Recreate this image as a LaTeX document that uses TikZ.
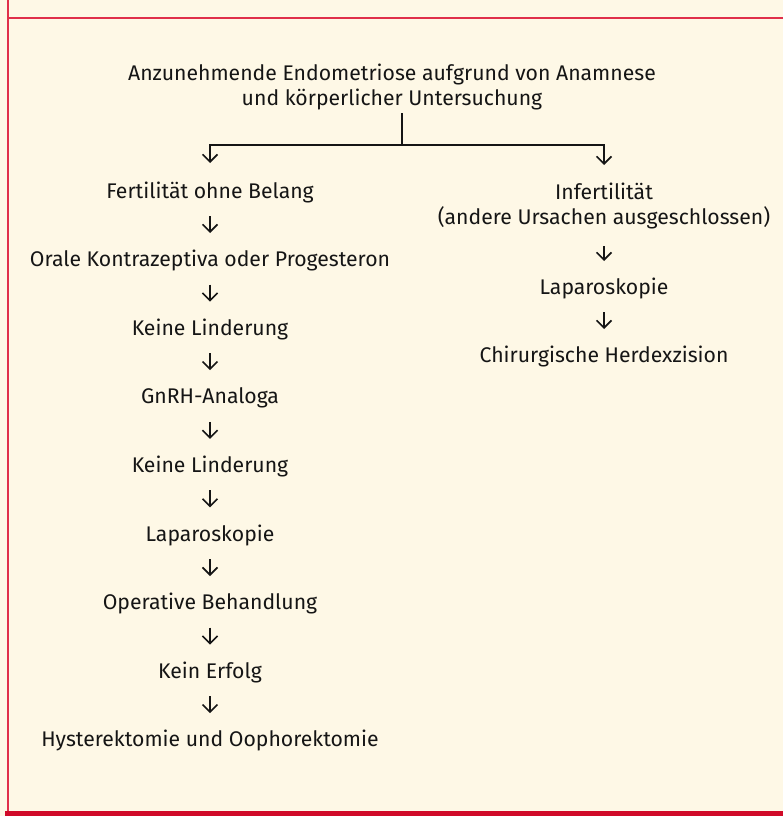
\documentclass[tikz,border=0pt]{standalone}
\usepackage{fontspec}
\setmainfont{Fira Sans}
\usetikzlibrary{arrows.meta,calc}
\definecolor{bgcream}{HTML}{FEF8E6}
\definecolor{frame}{HTML}{E0304A}
\definecolor{framedark}{HTML}{D00A28}
\definecolor{ink}{HTML}{151515}
\tikzset{
  lbl/.style={anchor=base, inner sep=0pt, text=ink, font=\fontsize{21.2}{25}\selectfont},
  arr/.style={draw=ink, line width=1.6pt, -{Straight Barb[length=7.5pt,width=15pt,line width=1.6pt]}},
  conn/.style={draw=ink, line width=1.6pt}
}
\begin{document}
\begin{tikzpicture}[x=1pt,y=-1pt]
\useasboundingbox (0,0) rectangle (783,816);
\fill[bgcream] (0,0) rectangle (783,816);
% frame
\fill[frame] (6.7,0) rectangle (9,812);
\fill[frame] (6.7,17) rectangle (783,19.2);
\fill[framedark] (5,810.7) rectangle (783,816);

% top (base anchor = last line)
\node[lbl, align=center] (top) at (392,105) {Anzunehmende Endometriose aufgrund von Anamnese\\und körperlicher Untersuchung};
\coordinate (j) at (402,145);
\coordinate (jt) at (402,113);

% left column
\node[lbl] (l1) at (210,198) {Fertilität ohne Belang};
\node[lbl] (l2) at (210,266.6) {Orale Kontrazeptiva oder Progesteron};
\node[lbl] (l3) at (210,335.2) {Keine Linderung};
\node[lbl] (l4) at (210,403.8) {GnRH-Analoga};
\node[lbl] (l5) at (210,472.4) {Keine Linderung};
\node[lbl] (l6) at (210,541) {Laparoskopie};
\node[lbl] (l7) at (210,609.6) {Operative Behandlung};
\node[lbl] (l8) at (210,678.2) {Kein Erfolg};
\node[lbl] (l9) at (210,746.8) {Hysterektomie und Oophorektomie};

% right column
\node[lbl, align=center] (r1) at (604,224) {Infertilität\\(andere Ursachen ausgeschlossen)};
\node[lbl] (r2) at (604,294) {Laparoskopie};
\node[lbl] (r3) at (604,362) {Chirurgische Herdexzision};

% connectors
\draw[conn] (jt) -- (j);
\draw[arr] (j) -| ($(l1.base)+(0,-35)$);
\draw[arr] (j) -| ($(r1.base)+(0,-59)$);
\foreach \a/\b in {l1/l2,l2/l3,l3/l4,l4/l5,l5/l6,l6/l7,l7/l8,l8/l9}
  \draw[arr] ($(\a.base)+(0,18)$) -- ($(\b.base)+(0,-33.6)$);
\draw[arr] ($(r1.base)+(0,22)$) -- ($(r2.base)+(0,-33)$);
\draw[arr] ($(r2.base)+(0,18)$) -- ($(r3.base)+(0,-33)$);
\end{tikzpicture}
\end{document}
